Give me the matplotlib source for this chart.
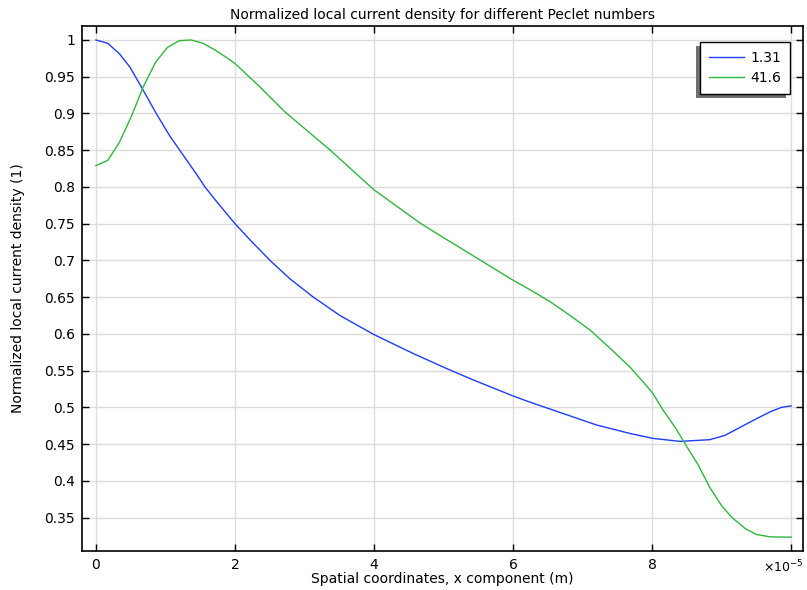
import matplotlib
matplotlib.use("Agg")
import matplotlib.pyplot as plt
from matplotlib.patches import Rectangle
from matplotlib.transforms import IdentityTransform

# Data (x in units of 1e-5 m)
x_131 = [0, 0.17, 0.34, 0.49, 0.672, 0.873, 1.065, 1.257, 1.449, 1.568, 1.737, 2.0, 2.216,
         2.504, 2.79, 3.127, 3.51, 4.0, 4.57, 5.04, 5.41, 6.0, 6.245, 6.72, 7.2, 7.68, 8.01,
         8.4, 8.83, 9.05, 9.27, 9.5, 9.7, 9.86, 10.0]
y_131 = [1.0, 0.9955, 0.981, 0.963, 0.933, 0.899, 0.869, 0.843, 0.817, 0.800, 0.780, 0.750,
         0.728, 0.700, 0.675, 0.650, 0.625, 0.599, 0.573, 0.553, 0.538, 0.5155, 0.507,
         0.4916, 0.476, 0.4645, 0.4578, 0.4537, 0.456, 0.462, 0.473, 0.4845, 0.494, 0.500,
         0.502]

x_416 = [0, 0.17, 0.34, 0.51, 0.68, 0.86, 1.03, 1.2, 1.37, 1.54, 1.71, 1.88, 2.0, 2.36,
         2.72, 3.37, 4.0, 4.66, 4.81, 6.0, 6.245, 6.53, 6.82, 7.11, 7.40, 7.68, 7.87, 8.01,
         8.16, 8.35, 8.47, 8.66, 8.83, 9.0, 9.15, 9.34, 9.5, 9.7, 10.0]
y_416 = [0.829, 0.836, 0.861, 0.896, 0.936, 0.970, 0.990, 0.999, 1.000, 0.9955, 0.9865,
         0.976, 0.968, 0.936, 0.902, 0.850, 0.796, 0.751, 0.742, 0.673, 0.660, 0.644,
         0.625, 0.605, 0.580, 0.555, 0.5347, 0.519, 0.496, 0.470, 0.451, 0.422, 0.391,
         0.366, 0.350, 0.335, 0.327, 0.3237, 0.3233]

labels = ["1.31", "41.6"]
xticks = [0, 2, 4, 6, 8, 10]
xticklabels = ["0", "2", "4", "6", "8", ""]
yticks = [0.35, 0.4, 0.45, 0.5, 0.55, 0.6, 0.65, 0.7, 0.75, 0.8, 0.85, 0.9, 0.95, 1.0]
yticklabels = ["0.35", "0.4", "0.45", "0.5", "0.55", "0.6", "0.65", "0.7", "0.75", "0.8",
               "0.85", "0.9", "0.95", "1"]

FS = 10
plt.rcParams['font.family'] = ['DejaVu Sans']
fig = plt.figure(figsize=(8.07, 5.90), dpi=100)
ax = fig.add_axes([82/807, 1-551/590, (803-82)/807, (551-26)/590])

ax.plot(x_131, y_131, color='#1f3cff', lw=1.0, label=labels[0])
ax.plot(x_416, y_416, color='#2db83d', lw=1.0, label=labels[1])

ax.set_xlim(-0.2, 10.17)
ax.set_ylim(0.3045, 1.019)
ax.set_xticks(xticks)
ax.set_xticklabels(xticklabels)
ax.set_yticks(yticks)
ax.set_yticklabels(yticklabels)
ax.tick_params(direction='in', length=5, width=1, top=True, right=True, labelsize=FS,
               colors='black', pad=5)
ax.grid(True, color='#dcdcdc', lw=1)
ax.set_axisbelow(True)
for s in ax.spines.values():
    s.set_linewidth(1.2)

ax.set_title("Normalized local current density for different Peclet numbers", fontsize=FS, pad=5)
ax.set_xlabel("Spatial coordinates, x component (m)", fontsize=FS, labelpad=0)
ax.set_ylabel("Normalized local current density (1)", fontsize=FS, labelpad=14)

ax.text(9.6, -0.0152, r'$\times10^{-5}$', transform=ax.get_xaxis_transform(),
        ha='left', va='top', fontsize=9)

leg = ax.legend(loc='upper right', bbox_to_anchor=(0.982, 0.9695), fancybox=False,
                framealpha=1, edgecolor='black', fontsize=FS, handlelength=2.5,
                borderpad=0.65, labelspacing=0.45, handletextpad=0.45, borderaxespad=0)
leg.get_frame().set_linewidth(1.0)
leg.set_zorder(6)

fig.canvas.draw()
bb = leg.get_window_extent()
shadow = Rectangle((bb.x0 - 4, bb.y0 - 4), bb.width, bb.height, transform=IdentityTransform(),
                   facecolor='#707070', edgecolor='none', zorder=5.5, clip_on=False)
ax.add_artist(shadow)

fig.savefig("out.png", dpi=100)
